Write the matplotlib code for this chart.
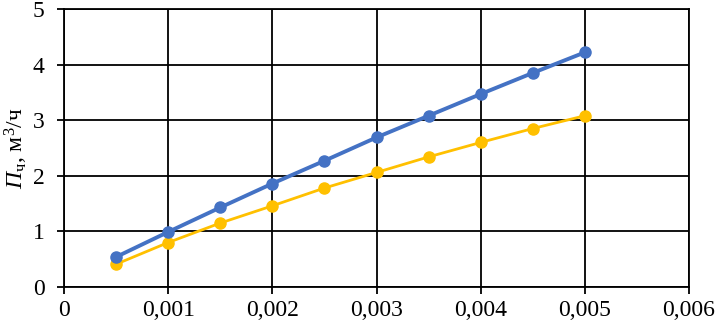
import numpy as np
import matplotlib
matplotlib.use('Agg')
import matplotlib.pyplot as plt
from matplotlib.ticker import FuncFormatter

plt.rcParams['font.family'] = ['Liberation Serif', 'DejaVu Serif']
plt.rcParams['mathtext.fontset'] = 'custom'
plt.rcParams['mathtext.rm'] = 'Liberation Serif'
plt.rcParams['mathtext.it'] = 'Liberation Serif:italic'

x = [0.0005, 0.001, 0.0015, 0.002, 0.0025, 0.003, 0.0035, 0.004, 0.0045, 0.005]
blue = [0.54, 0.99, 1.43, 1.86, 2.27, 2.69, 3.08, 3.47, 3.85, 4.22]
yellow = [0.41, 0.80, 1.15, 1.46, 1.78, 2.06, 2.34, 2.60, 2.85, 3.08]

fig = plt.figure(figsize=(7.16, 3.28), dpi=100)
ax = fig.add_axes([64 / 716, 41 / 328, 625 / 716, 278 / 328])

ax.plot(x, blue, color='#4472C4', lw=2.8, marker='o', ms=8, zorder=4)
ax.plot(x, yellow, color='#FFC000', lw=2.0, marker='o', ms=8, zorder=3)

ax.set_xlim(0, 0.006)
ax.set_ylim(0, 5)
ax.set_xticks(np.arange(0, 0.0061, 0.001))
ax.set_yticks(range(6))
ax.xaxis.set_major_formatter(FuncFormatter(
    lambda v, p: '0' if abs(v) < 1e-12 else f'{v:.3f}'.replace('.', ',')))
ax.grid(True, color='black', lw=1.3)
ax.set_axisbelow(True)
for s in ax.spines.values():
    s.set_color('black')
    s.set_linewidth(1.3)
ax.tick_params(axis='both', direction='out', length=5, width=1.3,
               colors='black', labelsize=17)
ax.tick_params(axis='x', pad=4)
ax.tick_params(axis='y', pad=9)
ax.set_ylabel(r'$\mathit{П}_{\mathrm{ч}}$, м$^3$/ч', fontsize=17, labelpad=2)

fig.savefig('out.png', dpi=100)
